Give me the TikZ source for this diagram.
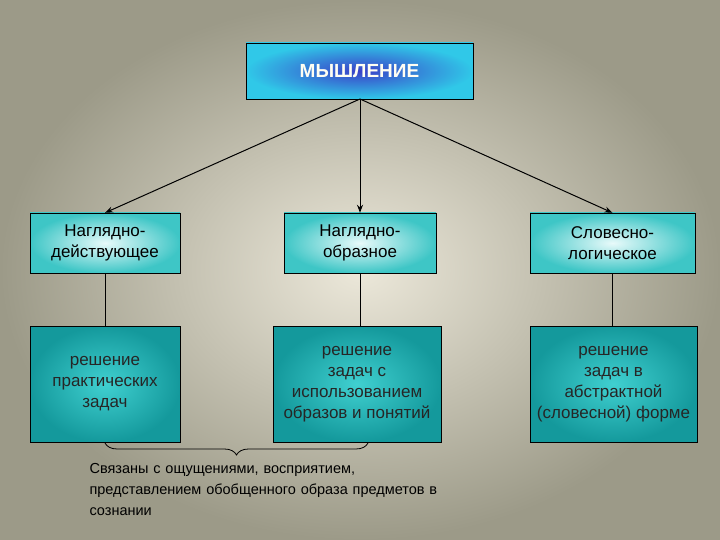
\documentclass[tikz,border=0pt]{standalone}
\usepackage{fontspec}
\setmainfont{Liberation Sans}
\usetikzlibrary{arrows.meta,decorations.pathreplacing}
\definecolor{bgin}{HTML}{ECE8DA}
\definecolor{bgout}{HTML}{9C9A88}
\definecolor{lowin}{HTML}{40D0D0}
\definecolor{lowout}{HTML}{14999C}
\definecolor{upin}{HTML}{E8FAFA}
\definecolor{upout}{HTML}{3EC6C6}
\definecolor{topin}{HTML}{3A40C8}
\definecolor{topout}{HTML}{30C8E8}
\begin{document}
\begin{tikzpicture}[x=1pt,y=-1pt,
  top/.style={draw=black,thick,inner color=topin,outer color=topout,text=white!95!yellow,font=\fontsize{19}{21}\selectfont\bfseries},
  upbox/.style={draw=black,inner color=upin,outer color=upout,text=black,align=center,font=\fontsize{17}{21}\selectfont},
  lowbox/.style={draw=black,inner color=lowin,outer color=lowout,text=black!85,align=center,font=\fontsize{17}{21}\selectfont},
  conn/.style={draw=black,line width=1pt},
  arr/.style={conn,-{Stealth[length=8pt,width=6pt]}}]
\shade[inner color=bgin,outer color=bgout] (0,0) rectangle (720,540);
\useasboundingbox (0,0) rectangle (720,540);
\node[top,minimum width=227pt,minimum height=56pt] (m) at (359.5,71) {МЫШЛЕНИЕ};
\node[upbox,minimum width=150pt,minimum height=60pt] (a1) at (105,243) {Наглядно-\\действующее};
\node[upbox,minimum width=152pt,minimum height=60pt] (b1) at (360,243) {Наглядно-\\образное};
\node[upbox,minimum width=165pt,minimum height=60pt] (c1) at (612.5,243) {Словесно-\\логическое};
\node[lowbox,minimum width=150pt,minimum height=116pt] (a2) at (105,384) {решение\\практических\\задач};
\node[lowbox,minimum width=168pt,minimum height=116pt] (b2) at (357,384) {решение\\задач с\\использованием\\образов и понятий};
\node[lowbox,minimum width=167pt,minimum height=116pt] (c2) at (613.5,384) {решение\\задач в\\абстрактной\\(словесной) форме};
\coordinate (mb) at (360,99);
\draw[arr] (mb) -- (a1.north);
\draw[arr] (mb) -- (b1.north);
\draw[arr] (mb) -- (c1.north);
\draw[conn] (a1.south) -- (a1.south|-a2.north);
\draw[conn] (b1.south) -- (b1.south|-b2.north);
\draw[conn] (c1.south) -- (c1.south|-c2.north);
\coordinate (bl) at (105,443);
\coordinate (br) at (368,443);
\draw[line width=0.8pt,decorate,decoration={brace,mirror,amplitude=12pt}] (bl) -- (br);
\node[anchor=north west,align=left,text width=360pt,font=\fontsize{14.5}{21}\selectfont] (t) at (86,460) {Связаны с ощущениями, восприятием,\\представлением обобщенного образа предметов в\\сознании};
\end{tikzpicture}
\end{document}
